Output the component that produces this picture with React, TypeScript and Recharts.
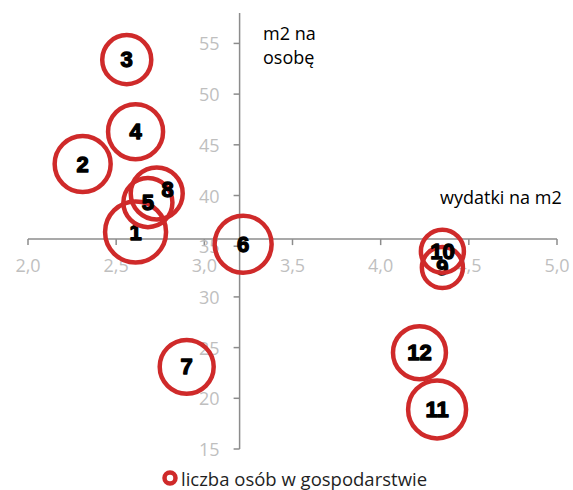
import {
  ScatterChart,
  Scatter,
  XAxis,
  YAxis,
  ZAxis,
  ReferenceLine,
  ReferenceDot,
  Legend,
} from "recharts";

// household groups, spending per m2 vs. m2 per person, bubble = persons in household
const NAMES = ["1", "2", "3", "4", "5", "6", "7", "8", "9", "10", "11", "12"];
const X_VALUES = [2.61, 2.31, 2.56, 2.61, 2.68, 3.22, 2.9, 2.73, 4.35, 4.35, 4.32, 4.22];
const Y_VALUES = [36.4, 43.1, 53.4, 46.3, 39.3, 35.2, 23.1, 40.2, 32.9, 34.5, 18.9, 24.5];
const SIZES = [3.0, 2.53, 1.94, 2.44, 1.94, 2.62, 2.35, 2.18, 1.36, 1.49, 2.71, 2.26];

const X_TICKS = [2, 2.5, 3, 3.5, 4, 4.5, 5];
const Y_TICKS = [15, 20, 25, 30, 35, 40, 45, 50, 55];

// where the axes cross each other
const X_CROSS = 3.2;
const Y_CROSS = 35.7;

const RED = "#cf2a2a";
const AXIS = "#8c8c8c";
const TICK_TEXT = "#bfbfbf";
const FONT = "'Open Sans', sans-serif";

// label nudges for crowded bubbles
const LABEL_SHIFT: Record<string, [number, number]> = { "8": [11, -4] };

const data = NAMES.map((name, i) => ({
  name,
  x: X_VALUES[i],
  y: Y_VALUES[i],
  z: SIZES[i],
}));

const Bubble = (props: any) => {
  const { cx, cy, payload } = props;
  const r = props.width ? props.width / 2 : Math.sqrt((props.size || 0) / Math.PI);
  const [dx, dy] = LABEL_SHIFT[payload.name] || [0, 0];
  return (
    <g>
      <circle cx={cx} cy={cy} r={r} fill="none" stroke={RED} strokeWidth={4.5} />
      <text
        x={cx + dx}
        y={cy + dy}
        textAnchor="middle"
        dominantBaseline="central"
        fontFamily="'Liberation Sans', Arial, sans-serif"
        fontWeight={700}
        fontSize={22}
        fill="#000"
        stroke="#000"
        strokeWidth={1.3}
        strokeLinejoin="round"
      >
        {payload.name}
      </text>
    </g>
  );
};

const makeXTick = (label: string) => (p: any) => (
  <g>
    <line x1={p.cx} y1={p.cy} x2={p.cx} y2={p.cy + 6} stroke={AXIS} strokeWidth={1.5} />
    <text
      x={p.cx}
      y={p.cy + 26}
      textAnchor="middle"
      dominantBaseline="central"
      fontFamily={FONT}
      fontSize={18}
      fill={TICK_TEXT}
    >
      {label}
    </text>
  </g>
);

const makeYTick = (label: string) => (p: any) => (
  <g>
    <line x1={p.cx - 6} y1={p.cy} x2={p.cx} y2={p.cy} stroke={AXIS} strokeWidth={1.5} />
    <text
      x={p.cx - 20}
      y={p.cy}
      textAnchor="end"
      dominantBaseline="central"
      fontFamily={FONT}
      fontSize={18}
      fill={TICK_TEXT}
    >
      {label}
    </text>
  </g>
);

const LegendContent = () => (
  <div
    style={{
      display: "flex",
      alignItems: "center",
      paddingLeft: 161,
      height: 24,
      fontFamily: FONT,
      fontSize: 18.5,
      color: "#1f1f1f",
    }}
  >
    <svg width={18} height={18} style={{ marginRight: 2 }}>
      <circle cx={9} cy={9} r={5.5} fill="#fff" stroke={RED} strokeWidth={4.5} />
    </svg>
    liczba osób w gospodarstwie
  </div>
);

export default function App() {
  return (
    <div style={{ position: "absolute", left: 0, top: 0 }}>
      <ScatterChart
        width={573}
        height={490}
        margin={{ top: 13, right: 16, bottom: 41, left: 28 }}
      >
        <XAxis type="number" dataKey="x" domain={[2, 5]} hide />
        <YAxis type="number" dataKey="y" domain={[15, 58]} hide />
        <ZAxis type="number" dataKey="z" domain={[0, 3]} range={[0, 2922]} />

        <ReferenceLine y={Y_CROSS} stroke={AXIS} strokeWidth={1.5} />
        <ReferenceLine x={X_CROSS} stroke={AXIS} strokeWidth={1.5} />
        {X_TICKS.map((t) => (
          <ReferenceDot
            key={`xt${t}`}
            x={t}
            y={Y_CROSS}
            r={0}
            ifOverflow="visible"
            shape={makeXTick(t.toFixed(1).replace(".", ","))}
          />
        ))}
        {Y_TICKS.map((t) => (
          <ReferenceDot
            key={`yt${t}`}
            x={X_CROSS}
            y={t}
            r={0}
            ifOverflow="visible"
            shape={makeYTick(String(t))}
          />
        ))}

        <Scatter data={data} shape={<Bubble />} isAnimationActive={false} />

        <text x={263} y={40} fontFamily={FONT} fontSize={18} fill="#000">
          m2 na
        </text>
        <text x={263} y={64} fontFamily={FONT} fontSize={18} fill="#000">
          osobę
        </text>
        <text x={440} y={204} fontFamily={FONT} fontSize={18} fill="#000">
          wydatki na m2
        </text>

        <Legend
          layout="horizontal"
          verticalAlign="middle"
          align="center"
          content={<LegendContent />}
          wrapperStyle={{ top: 466, left: 0, width: 573 }}
        />
      </ScatterChart>
    </div>
  );
}
